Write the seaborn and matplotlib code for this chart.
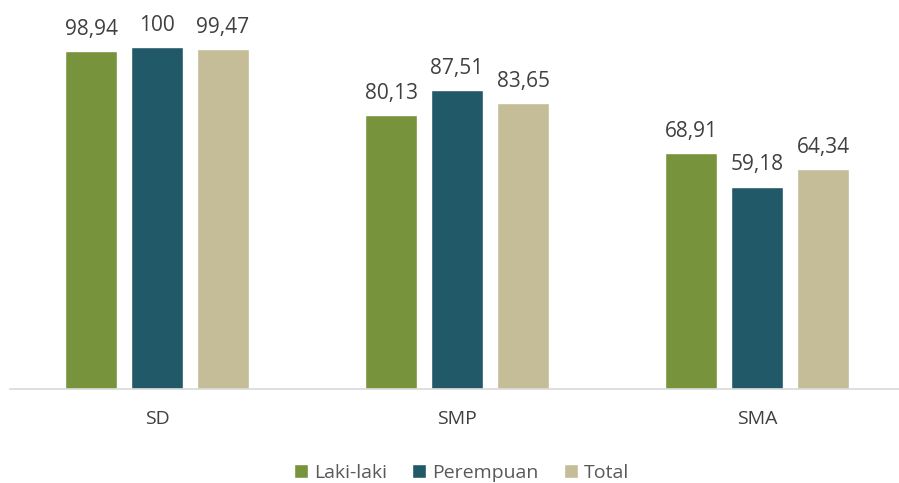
import numpy as np
import pandas as pd
import seaborn as sns
import matplotlib.pyplot as plt

# data
jenjang = ['SD', 'SMP', 'SMA']
laki_laki = [98.94, 80.13, 68.91]
perempuan = [100, 87.51, 59.18]
total = [99.47, 83.65, 64.34]
series = ['Laki-laki', 'Perempuan', 'Total']
warna = ['#77933C', '#215968', '#C4BD97']

df = pd.DataFrame({
    'jenjang': jenjang * 3,
    'seri': np.repeat(series, 3),
    'nilai': laki_laki + perempuan + total,
})

sns.set_style('white')
plt.rcParams['font.family'] = ['Open Sans', 'DejaVu Sans']

fig = plt.figure(figsize=(8.99, 4.83), dpi=100)
ax = fig.add_axes([10 / 899, (483 - 389) / 483, 889 / 899, 389 / 483])

sns.barplot(data=df, x='jenjang', y='nilai', hue='seri', palette=warna,
            saturation=1, width=0.66, gap=0.2, ax=ax, legend=True)

def fmt(v):
    if v == int(v):
        return str(int(v))
    return f'{v:.2f}'.replace('.', ',')

for cont in ax.containers:
    ax.bar_label(cont, labels=[fmt(b.get_height()) for b in cont],
                 padding=8, fontsize=15, color='#404040')

ax.set_xlim(-0.49, 2.473)
ax.set_ylim(0, 389 / 342 * 100)
ax.set_xlabel('')
ax.set_ylabel('')
ax.set_yticks([])
for s in ['top', 'right', 'left']:
    ax.spines[s].set_visible(False)
ax.spines['bottom'].set_color('#D9D9D9')
ax.spines['bottom'].set_linewidth(1.2)
ax.tick_params(axis='x', length=0, labelsize=14, labelcolor='#404040', pad=15)

handles, labels = ax.get_legend_handles_labels()
ax.legend(handles, labels, loc='center', bbox_to_anchor=(0.508, -0.216),
          ncol=3, frameon=False, fontsize=14, labelcolor='#595959',
          handlelength=0.72, handleheight=0.72, handletextpad=0.3, columnspacing=1.3)

fig.savefig('out.png', dpi=100)
